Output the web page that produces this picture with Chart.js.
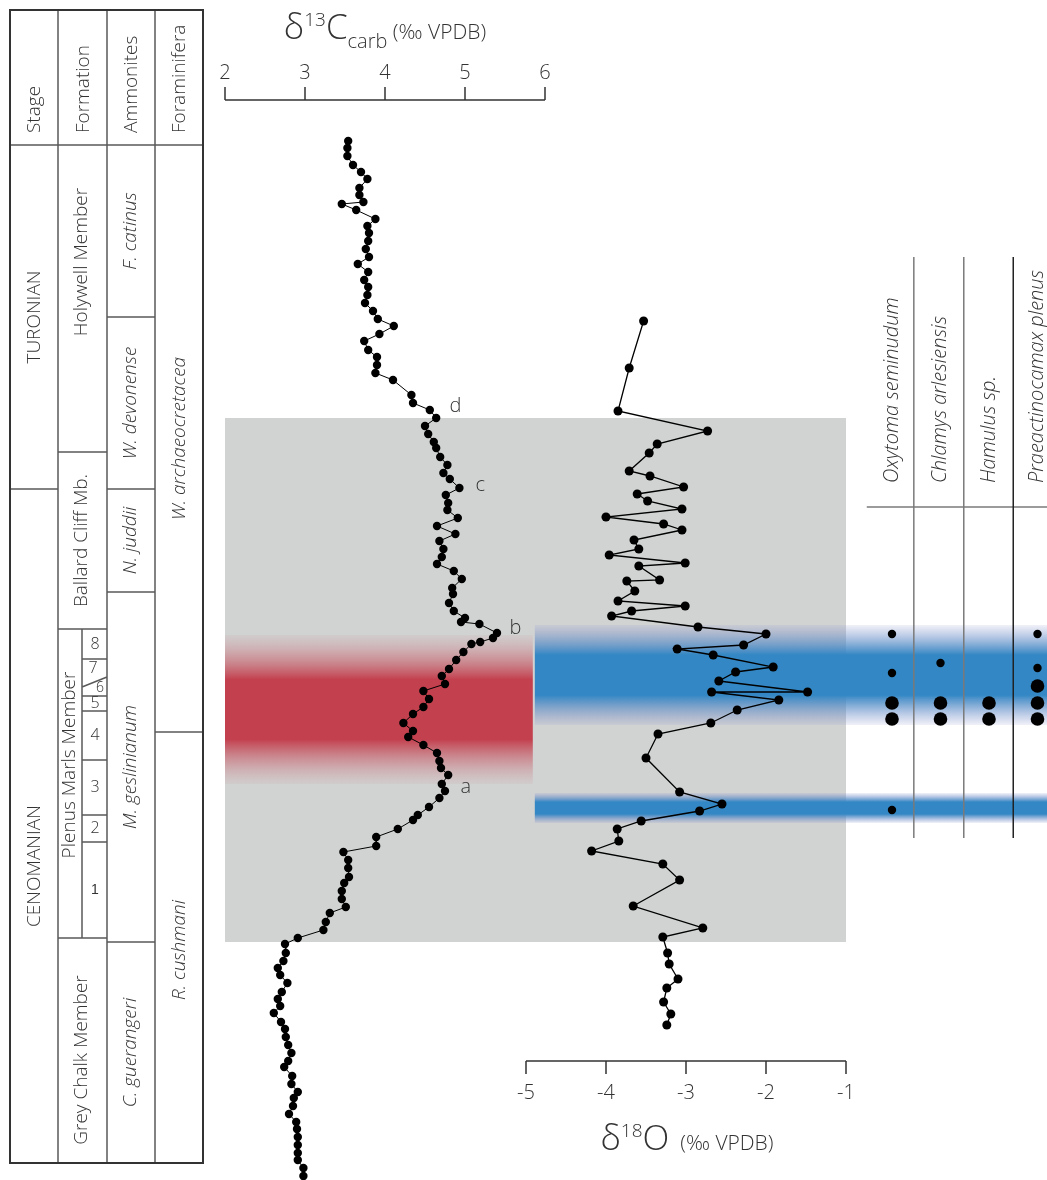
<!DOCTYPE html>
<html>
<head>
<meta charset="utf-8">
<title>Plenus Marls isotope stratigraphy</title>
<script src="https://cdn.jsdelivr.net/npm/chart.js@4.4.1/dist/chart.umd.min.js"></script>
<style>
  html, body { margin: 0; padding: 0; background: #ffffff; }
  #wrap { width: 1047px; height: 1180px; }
</style>
</head>
<body>
<div id="wrap"><canvas id="chart" width="1047" height="1180"></canvas></div>
<script>
// All heights are metres above the base of the logged section.

// Bulk carbonate carbon isotopes (per mil VPDB), top of section first
const c13Values = [
  3.54, 3.53, 3.53, 3.60, 3.70, 3.78, 3.68, 3.68, 3.73, 3.46,
  3.64, 3.88, 3.78, 3.80, 3.79, 3.76, 3.80, 3.66, 3.79, 3.74,
  3.79, 3.78, 3.75, 3.85, 3.91, 4.11, 3.93, 3.74, 3.79, 3.90,
  3.90, 3.88, 4.10, 4.33, 4.35, 4.56, 4.64, 4.50, 4.54, 4.61,
  4.64, 4.69, 4.78, 4.73, 4.81, 4.93, 4.76, 4.79, 4.78, 4.91,
  4.65, 4.88, 4.68, 4.73, 4.71, 4.65, 4.86, 4.96, 4.84, 4.85,
  4.80, 4.86, 5.00, 4.95, 5.18, 5.40, 5.35, 5.19, 5.08, 4.98,
  4.89, 4.80, 4.71, 4.75, 4.48, 4.55, 4.48, 4.35, 4.23, 4.35,
  4.29, 4.48, 4.65, 4.68, 4.70, 4.79, 4.71, 4.75, 4.68, 4.55,
  4.41, 4.35, 4.16, 3.89, 3.89, 3.48, 3.54, 3.54, 3.55, 3.49,
  3.46, 3.46, 3.51, 3.31, 3.26, 3.23, 2.91, 2.75, 2.76, 2.73,
  2.66, 2.69, 2.78, 2.71, 2.66, 2.69, 2.61, 2.70, 2.75, 2.76,
  2.79, 2.83, 2.79, 2.74, 2.84, 2.83, 2.91, 2.86, 2.85, 2.80,
  2.89, 2.90, 2.91, 2.91, 2.91, 2.91, 2.98, 2.98
];
const c13Heights = [
  10.39, 10.32, 10.24, 10.15, 10.08, 10.01, 9.92, 9.85, 9.78, 9.76,
  9.70, 9.61, 9.54, 9.47, 9.39, 9.31, 9.23, 9.16, 9.08, 9.00,
  8.93, 8.85, 8.77, 8.69, 8.61, 8.54, 8.46, 8.39, 8.30, 8.23,
  8.15, 8.07, 8.00, 7.85, 7.77, 7.70, 7.62, 7.54, 7.46, 7.38,
  7.32, 7.23, 7.15, 7.07, 7.01, 6.92, 6.85, 6.77, 6.70, 6.62,
  6.54, 6.46, 6.39, 6.31, 6.23, 6.16, 6.09, 6.01, 5.92, 5.86,
  5.77, 5.69, 5.62, 5.58, 5.56, 5.47, 5.42, 5.38, 5.36, 5.28,
  5.20, 5.11, 5.04, 4.96, 4.89, 4.81, 4.73, 4.66, 4.57, 4.49,
  4.43, 4.35, 4.27, 4.19, 4.12, 4.05, 3.96, 3.89, 3.82, 3.73,
  3.65, 3.60, 3.51, 3.43, 3.34, 3.28, 3.20, 3.12, 3.03, 2.97,
  2.89, 2.81, 2.73, 2.67, 2.58, 2.50, 2.42, 2.36, 2.27, 2.19,
  2.12, 2.05, 1.97, 1.88, 1.81, 1.74, 1.67, 1.58, 1.51, 1.43,
  1.35, 1.27, 1.19, 1.13, 1.04, 0.96, 0.88, 0.82, 0.74, 0.66,
  0.58, 0.51, 0.43, 0.35, 0.27, 0.20, 0.12, 0.04
];

// Oxygen isotopes (per mil VPDB), top of section first
const o18Values = [
  -3.53, -3.71, -3.85, -2.73, -3.36, -3.46, -3.71, -3.45, -3.03, -3.61,
  -3.48, -3.05, -4.00, -3.28, -3.05, -3.65, -3.59, -3.96, -3.01, -3.59,
  -3.33, -3.74, -3.64, -3.85, -3.01, -3.68, -3.93, -2.85, -2.00, -2.28,
  -3.11, -2.66, -1.91, -2.38, -2.59, -1.48, -2.68, -1.84, -2.36, -2.69,
  -3.35, -3.50, -3.08, -2.55, -2.83, -3.56, -3.86, -3.84, -4.18, -3.29,
  -3.08, -3.66, -2.79, -3.29, -3.23, -3.21, -3.10, -3.24, -3.28, -3.19,
  -3.24
];
const o18Heights = [
  8.59, 8.12, 7.69, 7.49, 7.36, 7.27, 7.09, 7.04, 6.93, 6.86,
  6.79, 6.71, 6.63, 6.56, 6.50, 6.40, 6.31, 6.25, 6.17, 6.14,
  6.00, 5.99, 5.89, 5.79, 5.74, 5.69, 5.64, 5.53, 5.46, 5.35,
  5.31, 5.25, 5.13, 5.08, 4.99, 4.88, 4.88, 4.80, 4.70, 4.57,
  4.46, 4.22, 3.88, 3.76, 3.69, 3.59, 3.51, 3.39, 3.29, 3.16,
  3.00, 2.74, 2.52, 2.43, 2.27, 2.16, 2.01, 1.92, 1.78, 1.66,
  1.55
];

const c13Ticks = [2, 3, 4, 5, 6];
const o18Ticks = [-5, -4, -3, -2, -1];

// Boreal fauna: taxon index, height, common (big dot) or rare (small dot)
const fossilTaxa = ["Oxytoma seminudum", "Chlamys arlesiensis", "Hamulus sp.", "Praeactinocamax plenus"];
const fossilTaxon = [0, 0, 0, 0, 0, 1, 1, 1, 2, 2, 3, 3, 3, 3, 3];
const fossilHeights = [5.46, 5.07, 4.77, 4.61, 3.70, 5.17, 4.77, 4.61, 4.77, 4.61, 5.46, 5.12, 4.94, 4.77, 4.61];
const fossilCommon = [false, false, true, true, false, false, true, true, true, true, false, false, true, true, true];

// Chemostratigraphic tie points on the carbon curve
const peakLabels = ["a", "b", "c", "d"];
const peakC13 = [5.01, 5.63, 5.19, 4.88];
const peakHeights = [3.91, 5.50, 6.93, 7.72];

// Intervals (top, base)
const excursionInterval = [7.62, 2.38];   // grey box
const warmInterval = [5.45, 3.96];        // red band on carbon side
const borealIntervals = [[5.55, 4.55], [3.87, 3.57]];  // blue bands
const faunaRange = [9.23, 3.42];          // extent of the fauna columns

// Stratigraphic column: [name, top, base, optional label height]
const sectionTop = 10.35;
const sectionBase = 0.17;
const stageZones = [["TURONIAN", 10.35, 6.91], ["CENOMANIAN", 6.91, 0.17, 3.14]];
const formationZones = [
  ["Holywell Member", 10.35, 7.28, 9.18],
  ["Ballard Cliff Mb.", 7.28, 5.51],
  ["Plenus Marls Member", 5.51, 2.42, 4.15],
  ["Grey Chalk Member", 2.42, 0.17, 1.20]
];
const ammoniteZones = [
  ["F. catinus", 10.35, 8.63],
  ["W. devonense", 8.63, 6.91],
  ["N. juddii", 6.91, 5.88],
  ["M. geslinianum", 5.88, 2.38],
  ["C. guerangeri", 2.38, 0.17]
];
const foramZones = [["W. archaeocretacea", 10.35, 4.48], ["R. cushmani", 4.48, 0.17, 2.30]];
const plenusBeds = [
  ["8", 5.51, 5.21], ["7", 5.21, 4.98, 5.12], ["6", 4.98, 4.84, 4.92], ["5", 4.84, 4.69],
  ["4", 4.69, 4.20], ["3", 4.20, 3.65], ["2", 3.65, 3.38], ["1", 3.38, 2.42]
];

const TEXT = "#333333";
const FONT = "'Open Sans', 'DejaVu Sans', sans-serif";

function vText(ctx, text, x, y, size, italic, align) {
  ctx.save();
  ctx.translate(x, y);
  ctx.rotate(-Math.PI / 2);
  ctx.font = (italic ? "italic " : "") + "300 " + size + "px " + FONT;
  ctx.textAlign = align || "center";
  ctx.textBaseline = "middle";
  ctx.fillStyle = TEXT;
  ctx.fillText(text, 0, 0);
  ctx.restore();
}

// parts: [text, size, baseline shift]
function richText(ctx, parts, cx, baseline) {
  let total = 0;
  parts.forEach(p => { ctx.font = "300 " + p[1] + "px " + FONT; total += ctx.measureText(p[0]).width; });
  let x = cx - total / 2;
  ctx.fillStyle = TEXT;
  ctx.textAlign = "left";
  ctx.textBaseline = "alphabetic";
  parts.forEach(p => {
    ctx.font = "300 " + p[1] + "px " + FONT;
    ctx.fillText(p[0], x, baseline + p[2]);
    x += ctx.measureText(p[0]).width;
  });
}

function band(ctx, x0, x1, top, bottom, rgb, edge) {
  const g = ctx.createLinearGradient(0, top, 0, bottom);
  g.addColorStop(0, "rgba(" + edge + ",0.12)");
  g.addColorStop(0.3, "rgba(" + rgb + ",1)");
  g.addColorStop(0.7, "rgba(" + rgb + ",1)");
  g.addColorStop(1, "rgba(" + edge + ",0.12)");
  ctx.fillStyle = g;
  ctx.fillRect(x0, top, x1 - x0, bottom - top);
}

const backdrop = {
  id: "backdrop",
  beforeDatasetsDraw(chart) {
    const ctx = chart.ctx;
    const y = chart.scales.y, x13 = chart.scales.x13, x18 = chart.scales.x18, xf = chart.scales.xf;
    const py = h => y.getPixelForValue(h);
    ctx.save();

    // grey excursion box spanning both isotope panels
    const boxL = x13.getPixelForValue(2), boxR = x18.getPixelForValue(-1);
    ctx.fillStyle = "#d1d3d3";
    ctx.fillRect(boxL, py(excursionInterval[0]), boxR - boxL, py(excursionInterval[1]) - py(excursionInterval[0]));

    // red warm interval and blue boreal incursions
    const splitX = x18.getPixelForValue(-4.89);
    band(ctx, boxL, splitX - 2, py(warmInterval[0]), py(warmInterval[1]), "195,64,78", "205,150,155");
    borealIntervals.forEach(iv => {
      band(ctx, splitX, chart.width, py(iv[0]), py(iv[1]), "50,135,196", "130,140,200");
    });

    // fauna columns
    ctx.lineWidth = 1.5;
    ctx.strokeStyle = "#7a7a7a";
    ctx.beginPath();
    ctx.moveTo(xf.getPixelForValue(-0.52), py(6.73));
    ctx.lineTo(chart.width, py(6.73));
    ctx.stroke();
    [0.45, 1.48, 2.5].forEach((v, i) => {
      ctx.strokeStyle = i === 2 ? "#222" : "#7a7a7a";
      ctx.beginPath();
      ctx.moveTo(xf.getPixelForValue(v), py(faunaRange[0]));
      ctx.lineTo(xf.getPixelForValue(v), py(faunaRange[1]));
      ctx.stroke();
    });
    fossilTaxa.forEach((name, i) => {
      vText(ctx, name, xf.getPixelForValue(i), py(6.97), 20, true, "left");
    });

    // carbon axis (top)
    const axTop = 100;
    ctx.strokeStyle = "#333";
    ctx.lineWidth = 1.5;
    ctx.beginPath();
    ctx.moveTo(x13.getPixelForValue(2), axTop);
    ctx.lineTo(x13.getPixelForValue(6), axTop);
    c13Ticks.forEach(t => {
      ctx.moveTo(x13.getPixelForValue(t), axTop);
      ctx.lineTo(x13.getPixelForValue(t), axTop - 13);
    });
    ctx.stroke();
    ctx.fillStyle = TEXT;
    ctx.font = "300 20px " + FONT;
    ctx.textAlign = "center";
    ctx.textBaseline = "middle";
    c13Ticks.forEach(t => ctx.fillText(String(t), x13.getPixelForValue(t), 73));
    richText(ctx, [["δ", 35, 0], ["13", 19, -13], ["C", 35, 0], ["carb", 20, 9], [" (‰ VPDB)", 21, 0]], 385, 39);

    // oxygen axis (bottom)
    const axBot = 1061;
    ctx.beginPath();
    ctx.moveTo(x18.getPixelForValue(-5), axBot);
    ctx.lineTo(x18.getPixelForValue(-1), axBot);
    o18Ticks.forEach(t => {
      ctx.moveTo(x18.getPixelForValue(t), axBot);
      ctx.lineTo(x18.getPixelForValue(t), axBot + 13);
    });
    ctx.stroke();
    ctx.font = "300 20px " + FONT;
    ctx.textAlign = "center";
    ctx.textBaseline = "middle";
    o18Ticks.forEach(t => ctx.fillText(String(t), x18.getPixelForValue(t), 1093));
    richText(ctx, [["δ", 35, 0], ["18", 19, -13], ["O", 35, 0], ["  (‰ VPDB)", 21, 0]], 687, 1150);

    // tie point letters
    ctx.font = "300 20px " + FONT;
    ctx.textAlign = "center";
    ctx.textBaseline = "middle";
    peakLabels.forEach((l, i) => ctx.fillText(l, x13.getPixelForValue(peakC13[i]), py(peakHeights[i]) - 2));

    // stratigraphic column
    const cols = [10, 58, 107, 155, 203], bedX = 82, headTop = 10;
    const yTop = py(sectionTop), yBase = py(sectionBase);
    ctx.strokeStyle = "#5a5a5a";
    ctx.lineWidth = 1.5;
    ctx.beginPath();
    for (let i = 1; i < 4; i++) { ctx.moveTo(cols[i], headTop); ctx.lineTo(cols[i], yBase); }
    ctx.moveTo(cols[0], yTop); ctx.lineTo(cols[4], yTop);
    ctx.moveTo(bedX, py(plenusBeds[0][1])); ctx.lineTo(bedX, py(plenusBeds[plenusBeds.length - 1][2]));
    const hLines = (zones, x0, x1) => zones.slice(1).forEach(z => { ctx.moveTo(x0, py(z[1])); ctx.lineTo(x1, py(z[1])); });
    hLines(stageZones, cols[0], cols[1]);
    hLines(formationZones, cols[1], cols[2]);
    hLines(ammoniteZones, cols[2], cols[3]);
    hLines(foramZones, cols[3], cols[4]);
    plenusBeds.slice(1).forEach(b => {
      if (b[0] === "6") { ctx.moveTo(bedX, py(4.93)); ctx.lineTo(cols[2], py(5.03)); }
      else { ctx.moveTo(bedX, py(b[1])); ctx.lineTo(cols[2], py(b[1])); }
    });
    ctx.stroke();
    ctx.strokeStyle = "#333";
    ctx.lineWidth = 2;
    ctx.strokeRect(cols[0], headTop, cols[4] - cols[0], yBase - headTop);

    // headers
    ["Stage", "Formation", "Ammonites", "Foraminifera"].forEach((h, i) => {
      vText(ctx, h, (cols[i] + cols[i + 1]) / 2 + 1, 133, 19, false, "left");
    });
    const zoneText = (zones, cx, italic) => zones.forEach(z => {
      const mid = z.length > 3 ? z[3] : (z[1] + z[2]) / 2;
      vText(ctx, z[0], cx, py(mid), 19, italic);
    });
    zoneText(stageZones, 35, false);
    zoneText(formationZones.filter(z => z[0] !== "Plenus Marls Member"), 82, false);
    vText(ctx, "Plenus Marls Member", 70, py(4.15), 19, false);
    zoneText(ammoniteZones, 131, true);
    zoneText(foramZones, 180, true);

    // bed numbers
    plenusBeds.forEach(b => {
      const mid = b.length > 3 ? b[3] : (b[1] + b[2]) / 2;
      ctx.font = (b[0] === "1" ? "400 14px 'Liberation Sans', sans-serif" : "300 " + (b[0] === "6" ? 14 : 16) + "px " + FONT);
      ctx.fillStyle = TEXT;
      ctx.textAlign = "center";
      ctx.textBaseline = "middle";
      const cx = b[0] === "6" ? 100 : (b[0] === "7" ? 93 : 95);
      ctx.fillText(b[0], cx, py(mid));
    });

    ctx.restore();
  }
};

const dotStyle = { borderColor: "#000", backgroundColor: "#000", pointBackgroundColor: "#000", pointBorderWidth: 0, pointHoverRadius: 0 };

new Chart(document.getElementById("chart"), {
  type: "scatter",
  data: {
    datasets: [
      Object.assign({
        label: "d13C carb",
        data: c13Values.map((v, i) => ({ x: v, y: c13Heights[i] })),
        xAxisID: "x13",
        showLine: true,
        borderWidth: 1,
        pointRadius: 4.2
      }, dotStyle),
      Object.assign({
        label: "d18O",
        data: o18Values.map((v, i) => ({ x: v, y: o18Heights[i] })),
        xAxisID: "x18",
        showLine: true,
        borderWidth: 1.3,
        pointRadius: 4.5
      }, dotStyle),
      Object.assign({
        label: "Boreal fauna",
        data: fossilTaxon.map((t, i) => ({ x: t, y: fossilHeights[i] })),
        xAxisID: "xf",
        showLine: false,
        pointRadius: fossilCommon.map(c => (c ? 6.8 : 4.2))
      }, dotStyle)
    ]
  },
  options: {
    responsive: false,
    animation: false,
    devicePixelRatio: 1,
    layout: { padding: 0, autoPadding: false },
    plugins: { legend: { display: false }, tooltip: { enabled: false } },
    scales: {
      // 80 px per per-mil unit, full-canvas chart area
      x13: { type: "linear", display: false, min: -0.8125, max: 12.275 },
      x18: { type: "linear", display: false, min: -11.575, max: 1.5125 },
      xf: { type: "linear", display: false, min: -18.392, max: 3.196 },
      y: { type: "linear", display: false, min: 0, max: 11.8 }
    }
  },
  plugins: [backdrop]
});
</script>
</body>
</html>
